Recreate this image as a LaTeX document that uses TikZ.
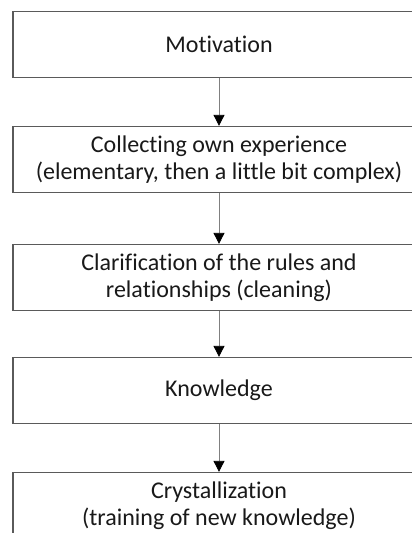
\documentclass[tikz,border=0pt]{standalone}
\usepackage{fontspec}
\setmainfont[Ligatures=CommonOff]{Carlito}
\usetikzlibrary{arrows.meta}
\definecolor{BoxLine}{HTML}{5A5A5A}
\definecolor{ArrLine}{HTML}{808080}
\begin{document}
\begin{tikzpicture}[x=1pt, y=-1pt,
    stage/.style={draw=BoxLine, line width=1.3pt, fill=white,
                  minimum width=412pt, minimum height=66pt, inner sep=0pt,
                  align=center, text=black!90,
                  font=\fontsize{24}{27}\selectfont},
    flow/.style={draw=ArrLine, line width=0.8pt,
                 -{Triangle[length=11pt, width=11pt, color=black]}}]
  % Page frame
  \clip (0,0) rectangle (412,533);
  % Stages
  \node[stage] (motiv)   at (219, 44.5)  {Motivation};
  \node[stage] (collect) at (219, 159.5) {Collecting own experience\\(elementary, then a little bit complex)};
  \node[stage] (clarify) at (219, 277.5) {Clarification of the rules and\\relationships (cleaning)};
  \node[stage] (knowl)   at (219, 390.5) {Knowledge};
  \node[stage] (crystal) at (219, 505.5) {Crystallization\\(training of new knowledge)};
  % Arrows
  \draw[flow] (motiv) -- (collect);
  \draw[flow] (collect) -- (clarify);
  \draw[flow] (clarify) -- (knowl);
  \draw[flow] (knowl) -- (crystal);
\end{tikzpicture}
\end{document}
